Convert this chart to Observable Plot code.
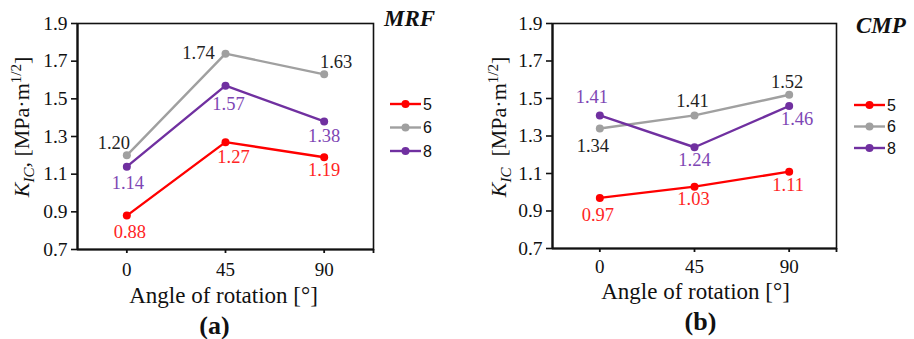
<!DOCTYPE html>
<html>
<head>
<meta charset="utf-8">
<script src="https://cdn.jsdelivr.net/npm/d3@7"></script>
<script src="https://cdn.jsdelivr.net/npm/@observablehq/plot@0.6"></script>
<style>
  html, body { margin: 0; padding: 0; background: #fff; }
  #wrap { position: relative; width: 914px; height: 339px; overflow: hidden; }
  #pa, #pb { position: absolute; top: 0; }
  #pa { left: 0; }
  #pb { left: 457px; }
</style>
</head>
<body>
<div id="wrap"><div id="pa"></div><div id="pb"></div></div>
<script>
// ---- data ----
const angles = [0, 45, 90];
const seriesNames = ["5", "6", "8"];
const mrf5 = [0.88, 1.27, 1.19];
const mrf6 = [1.20, 1.74, 1.63];
const mrf8 = [1.14, 1.57, 1.38];
const cmp5 = [0.97, 1.03, 1.11];
const cmp6 = [1.34, 1.41, 1.52];
const cmp8 = [1.41, 1.24, 1.46];
const yTicks = [0.7, 0.9, 1.1, 1.3, 1.5, 1.7, 1.9];
const xTicks = [0, 45, 90];
const panelTitles = ["MRF", "CMP"];
const panelTags = ["(a)", "(b)"];
const xLabel = "Angle of rotation [°]";

// ---- style ----
const seriesColors = ["#ff0000", "#a0a0a0", "#7030a0"];
const labelColors = ["#ff2424", "#222222", "#7e46b4"];
const xDomain = [-22.5, 112.5];
const yDomain = [0.7, 1.9];
const serif = "'Liberation Serif', 'DejaVu Serif', serif";

// label offsets [dx, dy] per series per point
const offsA = [
  [[3, 16], [8, 15], [0, 13]],
  [[-13, -12], [-27, -1], [12, -12]],
  [[1, 16], [3, 18], [0, 15]]
];
const offsB = [
  [[-2, 17], [-1, 12], [-1, 13]],
  [[-7, 18], [-2, -14], [-2, -13]],
  [[-8, -18], [0, 13], [8, 13]]
];

function makeRows(seriesVals) {
  const rows = [];
  seriesVals.forEach((vals, si) => {
    vals.forEach((v, i) => rows.push({series: seriesNames[si], si, i, angle: angles[i], k: v}));
  });
  return rows;
}

function panel(cfg) {
  const rows = makeRows(cfg.series);
  const labelMarks = rows.map(r => Plot.text([r], {
    x: "angle", y: "k", text: d => d.k.toFixed(2),
    dx: cfg.offs[r.si][r.i][0], dy: cfg.offs[r.si][r.i][1],
    fill: labelColors[r.si], fontSize: 18.5
  }));
  const plot = Plot.plot({
    width: 457, height: 339,
    marginLeft: cfg.ml, marginRight: cfg.mr, marginTop: cfg.mt, marginBottom: cfg.mb,
    style: {fontFamily: serif, fontSize: "19px", color: "#111", background: "transparent"},
    x: {domain: xDomain, axis: null},
    y: {domain: yDomain, axis: null},
    color: {domain: seriesNames, range: seriesColors},
    marks: [
      Plot.frame({stroke: "#111", strokeWidth: 1.6}),
      Plot.ruleX([xDomain[0]], {stroke: "#111", strokeWidth: 2.2}),
      Plot.ruleY([yDomain[0]], {stroke: "#111", strokeWidth: 2.2}),
      Plot.axisY({ticks: yTicks, tickSize: 6, tickPadding: 4, strokeWidth: 1.6,
        tickFormat: d3.format(".1f"), fontSize: 19.5, label: null, color: "#111"}),
      Plot.axisX({ticks: [...xTicks, xDomain[1]], tickSize: 4, tickPadding: cfg.xtPad, strokeWidth: 1.8,
        tickFormat: d => xTicks.includes(d) ? String(d) : "", fontSize: 19, label: null, color: "#111"}),
      Plot.line(rows, {x: "angle", y: "k", z: "series", stroke: "series", strokeWidth: 2.4}),
      Plot.dot(rows, {x: "angle", y: "k", fill: "series", r: 4}),
      ...labelMarks,
      Plot.text([xLabel], {frameAnchor: "bottom", lineAnchor: "middle", dx: cfg.xlDx, dy: cfg.xlDy, fontSize: 23, fill: "#111"}),
      Plot.text([cfg.tag], {frameAnchor: "bottom", lineAnchor: "middle", dx: cfg.tagDx, dy: cfg.tagDy, fontSize: 26, fontWeight: "bold", fill: "#111"})
    ]
  });
  const svg = d3.select(plot);
  // y label with sub/superscripts
  const yl = svg.append("text")
    .attr("transform", `translate(${cfg.ylX},${cfg.ylY}) rotate(-90)`)
    .attr("text-anchor", "middle")
    .attr("fill", "#111")
    .style("font-family", serif).style("font-size", "22px");
  yl.append("tspan").style("font-style", "italic").text("K");
  yl.append("tspan").style("font-style", "italic").style("font-size", "15px").attr("dy", 5).text("IC");
  yl.append("tspan").attr("dy", -5).text(cfg.ylSep + "[MPa·m");
  yl.append("tspan").style("font-size", "15px").attr("dy", -8).text("1/2");
  yl.append("tspan").attr("dy", 8).text("]");
  // panel title
  svg.append("text").attr("x", cfg.titleX).attr("y", cfg.titleY)
    .attr("text-anchor", "start")
    .attr("fill", "#111")
    .style("font-family", serif).style("font-size", "23px")
    .style("font-style", "italic").style("font-weight", "bold")
    .text(cfg.title);
  // legend
  const lg = svg.append("g");
  seriesNames.forEach((name, i) => {
    const y = cfg.lgY + i * cfg.lgStep;
    lg.append("line").attr("x1", cfg.lgX).attr("x2", cfg.lgX + 31).attr("y1", y).attr("y2", y)
      .attr("stroke", seriesColors[i]).attr("stroke-width", 2.4);
    lg.append("circle").attr("cx", cfg.lgX + 15.5).attr("cy", y).attr("r", 4).attr("fill", seriesColors[i]);
    lg.append("text").attr("x", cfg.lgX + 33).attr("y", y + 5.5).attr("fill", "#111")
      .attr("text-anchor", "start")
      .style("font-family", "'Liberation Sans', Arial, sans-serif").style("font-size", "16px").text(name);
  });
  return plot;
}

document.getElementById("pa").appendChild(panel({
  series: [mrf5, mrf6, mrf8], offs: offsA,
  ml: 77, mr: 84, mt: 23, mb: 90, xtPad: 9,
  xlDx: -2, xlDy: 46, tag: panelTags[0], tagDx: -11, tagDy: 76,
  ylX: 29, ylY: 127, ylSep: ", ",
  title: panelTitles[0], titleX: 384, titleY: 26,
  lgX: 390, lgY: 104, lgStep: 23.5
}));
document.getElementById("pb").appendChild(panel({
  series: [cmp5, cmp6, cmp8], offs: offsB,
  ml: 95, mr: 78, mt: 23, mb: 91, xtPad: 7,
  xlDx: 1, xlDy: 43, tag: panelTags[1], tagDx: 6, tagDy: 73,
  ylX: 49, ylY: 127, ylSep: "\u00a0\u00a0",
  title: panelTitles[1], titleX: 399, titleY: 33,
  lgX: 397, lgY: 105, lgStep: 21.5
}));
</script>
</body>
</html>
